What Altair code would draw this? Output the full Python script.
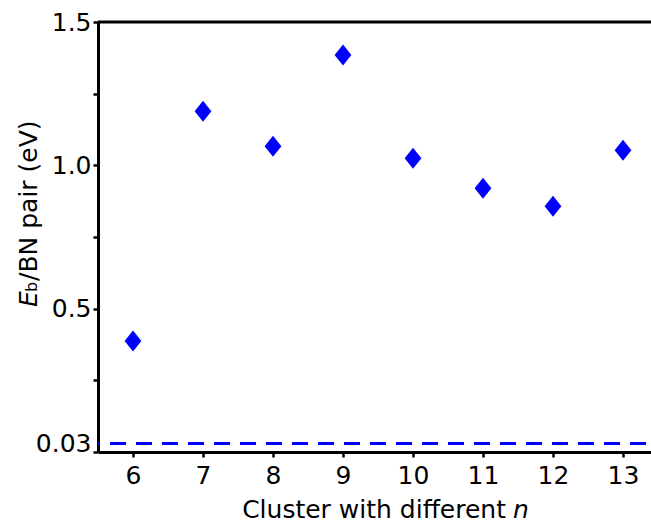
import altair as alt
import pandas as pd

# data
clusters = [6, 7, 8, 9, 10, 11, 12, 13]
eb_values = [0.387, 1.189, 1.067, 1.385, 1.025, 0.920, 0.857, 1.053]
ref_level = [0.03]
y_tick_values = [0, 0.03, 0.25, 0.5, 0.75, 1.0, 1.25, 1.5]
x_tick_values = [6, 7, 8, 9, 10, 11, 12, 13]

df = pd.DataFrame({"n": clusters, "eb": eb_values})
ref_df = pd.DataFrame({"y": ref_level})

FONT = "DejaVu Sans"
BLUE = "#0000FF"

xscale = alt.Scale(domain=[5.5, 13.4], nice=False, zero=False)
yscale = alt.Scale(domain=[0, 1.5], nice=False, zero=False)

label_expr = ("datum.value == 0.03 ? '0.03' : (datum.value == 0.5 ? '0.5' : "
              "(datum.value == 1 ? '1.0' : (datum.value == 1.5 ? '1.5' : '')))")

points = alt.Chart(df).mark_point(
    shape="M0,-1L0.8,0L0,1L-0.8,0Z", filled=True, color=BLUE, size=441, opacity=1
).encode(
    x=alt.X("n:Q", scale=xscale,
            axis=alt.Axis(values=x_tick_values, title=None, format="d",
                          grid=False, domainColor="black", domainWidth=3,
                          tickColor="black", tickWidth=2.5, tickSize=5,
                          labelFont=FONT, labelFontSize=25, labelColor="black",
                          labelPadding=6)),
    y=alt.Y("eb:Q", scale=yscale,
            axis=alt.Axis(values=y_tick_values, labelExpr=label_expr, title=None,
                          grid=False, domainColor="black", domainWidth=3,
                          tickColor="black", tickWidth=2.5, tickSize=5,
                          tickOpacity={"condition": {"test": "datum.value == 0.03", "value": 0},
                                       "value": 1},
                          labelFont=FONT, labelFontSize=25, labelColor="black",
                          labelPadding=2)),
)

dashed = alt.Chart(ref_df).mark_rule(
    color=BLUE, strokeWidth=3, strokeDash=[16, 10], strokeDashOffset=-5
).encode(y=alt.Y("y:Q", scale=yscale))

top_border = alt.Chart(pd.DataFrame({"y": [1.5]})).mark_rule(
    color="black", strokeWidth=3
).encode(y=alt.Y("y:Q", scale=yscale))

# y title pieces (rotated): italic E, small b, then "/BN pair (eV)"
yt_E = alt.Chart(pd.DataFrame({"t": ["E"]})).mark_text(
    font=FONT, fontSize=25, fontStyle="italic", angle=270, align="left",
    baseline="alphabetic", color="black"
).encode(text="t:N", x=alt.value(-61), y=alt.value(285))
yt_b = alt.Chart(pd.DataFrame({"t": ["b"]})).mark_text(
    font=FONT, fontSize=16, angle=270, align="left",
    baseline="alphabetic", color="black"
).encode(text="t:N", x=alt.value(-61), y=alt.value(270))
yt_rest = alt.Chart(pd.DataFrame({"t": ["/BN pair (eV)"]})).mark_text(
    font=FONT, fontSize=25, angle=270, align="left",
    baseline="alphabetic", color="black"
).encode(text="t:N", x=alt.value(-61), y=alt.value(259))

# x title pieces
xt_main = alt.Chart(pd.DataFrame({"t": ["Cluster with different"]})).mark_text(
    font=FONT, fontSize=25, align="right", baseline="alphabetic", color="black"
).encode(text="t:N", x=alt.value(408), y=alt.value(496))
xt_n = alt.Chart(pd.DataFrame({"t": ["n"]})).mark_text(
    font=FONT, fontSize=25, fontStyle="italic", align="left",
    baseline="alphabetic", color="black"
).encode(text="t:N", x=alt.value(415), y=alt.value(496))

chart = alt.layer(
    dashed, top_border, points, yt_E, yt_b, yt_rest, xt_main, xt_n
).properties(
    width=553, height=430,
    autosize=alt.AutoSizeParams(type="none"),
    padding={"left": 98, "top": 22, "right": 0, "bottom": 71},
    background="white",
).configure_view(stroke=None)

chart.save("out.html", embed_options={"renderer": "svg", "actions": False})
